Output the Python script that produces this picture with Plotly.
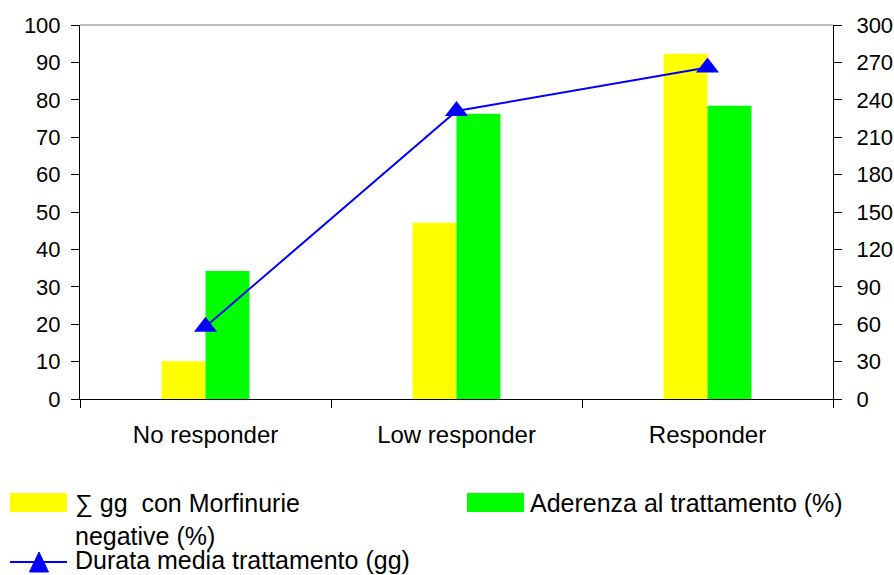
import plotly.graph_objects as go

categories = ["No responder", "Low responder", "Responder"]
morfinurie_neg = [10.1, 47.1, 92.3]          # % (left axis)
aderenza = [34.2, 76.3, 78.4]                # % (left axis)
durata_media = [58, 231, 266]                # gg (right axis)

series_names = ["∑ gg&nbsp; con Morfinurie<br>negative (%)",
                "Aderenza al trattamento (%)",
                "Durata media trattamento (gg)"]

left_ticks = list(range(0, 101, 10))
right_ticks = list(range(0, 301, 30))

W, H = 894, 575
L, R, T, B = 80, 61, 25, 176
PW, PH = W - L - R, H - T - B

def px(x):
    return (x - L) / PW

def py(y):
    return (H - B - y) / PH

FONT = "Liberation Sans, Arial, sans-serif"
YELLOW = "#FFFF00"
GREEN = "#00FF00"
BLUE = "#0000FF"

fig = go.Figure()
fig.add_trace(go.Bar(x=categories, y=morfinurie_neg, marker=dict(color=YELLOW, line=dict(width=0)),
                     name=series_names[0], showlegend=False))
fig.add_trace(go.Bar(x=categories, y=aderenza, marker=dict(color=GREEN, line=dict(width=0)),
                     name=series_names[1], showlegend=False))
fig.add_trace(go.Scatter(x=categories, y=durata_media, yaxis="y2", mode="lines+markers",
                         line=dict(color=BLUE, width=2),
                         marker=dict(symbol="triangle-up", size=20, color=BLUE),
                         name=series_names[2], showlegend=False))

axis_common = dict(showgrid=False, zeroline=False, linecolor="#000000", linewidth=1,
                   tickcolor="#000000", tickwidth=1, ticklen=8, automargin=False,
                   tickfont=dict(family=FONT, size=22, color="#000000"))

inner_ticks = dict(ticklen=8, tickcolor="#000000", showticklabels=False, automargin=False,
                   showline=False, showgrid=False, zeroline=False)

fig.update_layout(
    width=W, height=H,
    margin=dict(l=L, r=R, t=T, b=B, autoexpand=False),
    paper_bgcolor="white", plot_bgcolor="white",
    barmode="group", bargap=0.65, bargroupgap=0,
    font=dict(family=FONT, color="#000000"),
    showlegend=False,
    xaxis=dict(type="category", showline=True, ticks="outside", tickson="boundaries",
               showgrid=False, zeroline=False, linecolor="#000000", tickcolor="#000000",
               ticklen=8, ticklabelstandoff=14, range=[-0.5, 2.5], automargin=False,
               tickfont=dict(family=FONT, size=24, color="#000000")),
    xaxis2=dict(overlaying="x", anchor="y", range=[-0.5, 2.5], tickvals=[0.5, 1.5],
                ticks="inside", **inner_ticks),
    yaxis=dict(range=[0, 100], tickvals=left_ticks, ticks="outside", showline=True,
               ticklabelstandoff=6, **axis_common),
    yaxis3=dict(overlaying="y", anchor="x", side="left", range=[0, 100], tickvals=left_ticks,
                ticks="inside", **inner_ticks),
    yaxis2=dict(overlaying="y", side="right", anchor="x", range=[0, 300], tickvals=right_ticks,
                ticks="outside", showline=True, ticklabelstandoff=10, **axis_common),
    yaxis4=dict(overlaying="y", side="right", anchor="x", range=[0, 300], tickvals=right_ticks,
                ticks="inside", **inner_ticks),
)

# top border of the plot area
fig.add_shape(type="line", xref="paper", yref="paper", x0=0, x1=1, y0=1, y1=1,
              line=dict(color="#808080", width=1))

# manual legend
legend_font = dict(family=FONT, size=25, color="#000000")
fig.add_shape(type="rect", xref="paper", yref="paper", x0=px(10), x1=px(67), y0=py(512), y1=py(493),
              fillcolor=YELLOW, line=dict(width=0))
fig.add_annotation(xref="paper", yref="paper", x=px(73), y=py(519), xanchor="left", yanchor="middle",
                   text=series_names[0], showarrow=False, align="left", font=legend_font)
fig.add_shape(type="rect", xref="paper", yref="paper", x0=px(467), x1=px(524), y0=py(512), y1=py(493),
              fillcolor=GREEN, line=dict(width=0))
fig.add_annotation(xref="paper", yref="paper", x=px(528), y=py(503), xanchor="left", yanchor="middle",
                   text=series_names[1], showarrow=False, align="left", font=legend_font)
fig.add_shape(type="line", xref="paper", yref="paper", x0=px(10), x1=px(67), y0=py(562), y1=py(562),
              line=dict(color=BLUE, width=2))
tri = "M {a},{b} L {c},{d} L {e},{f} Z".format(a=px(29.5), b=py(572), c=px(48.5), d=py(572),
                                               e=px(39), f=py(552))
fig.add_shape(type="path", xref="paper", yref="paper", path=tri, fillcolor=BLUE, line=dict(color=BLUE, width=1))
fig.add_annotation(xref="paper", yref="paper", x=px(73), y=py(560), xanchor="left", yanchor="middle",
                   text=series_names[2], showarrow=False, align="left", font=legend_font)

fig.write_html("out.html", config={"displayModeBar": False},
               post_script="document.body.style.margin='0';document.body.style.overflow='hidden';")
